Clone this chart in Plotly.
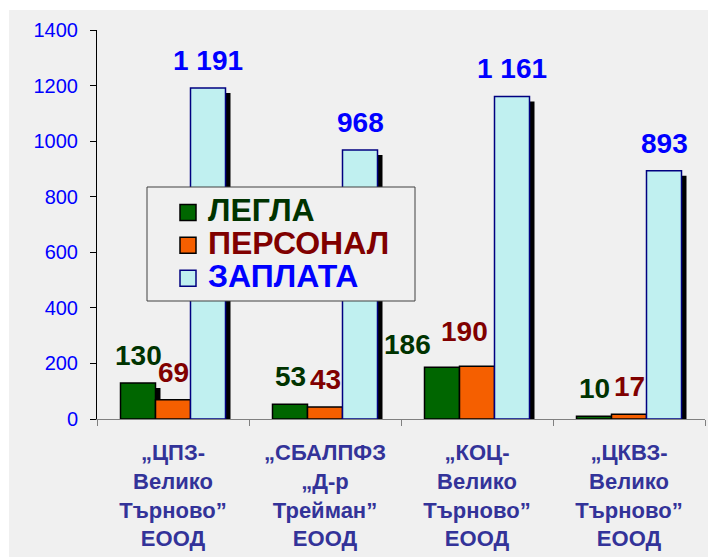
import plotly.graph_objects as go

# ---------------- data ----------------
categories = [
    "„ЦПЗ-<br>Велико<br>Търново”<br>ЕООД",
    "„СБАЛПФЗ<br>„Д-р<br>Трейман”<br>ЕООД",
    "„КОЦ-<br>Велико<br>Търново”<br>ЕООД",
    "„ЦКВЗ-<br>Велико<br>Търново”<br>ЕООД",
]
beds = [130, 53, 186, 10]          # ЛЕГЛА
staff = [69, 43, 190, 17]          # ПЕРСОНАЛ
salary = [1191, 968, 1161, 893]    # ЗАПЛАТА
series_names = ["ЛЕГЛА", "ПЕРСОНАЛ", "ЗАПЛАТА"]
y_ticks = [0, 200, 400, 600, 800, 1000, 1200, 1400]

# ---------------- styling ----------------
W, H = 716, 557
M = dict(l=89, r=19, t=22, b=146)
PW = W - M["l"] - M["r"]
PH = H - M["t"] - M["b"]
YMAX = 1400
px_x = PW / len(categories)   # pixels per category
px_y = PH / YMAX              # pixels per y unit


def fx(px):   # figure pixel -> paper x
    return (px - M["l"]) / PW


def fy(py):   # figure pixel (from top) -> paper y
    return (M["t"] + PH - py) / PH


FONT = "Arial, Liberation Sans, sans-serif"
fills = ["#006600", "#F55F00", "#C0F0F0"]
lines = ["#000000", "#000000", "#000080"]
label_colors = ["#003300", "#800000", "#0000FF"]
BG = "#F0F0F0"

bar_w = 35 / px_x
offsets = [(-1.5 + k) * bar_w for k in range(3)]
sh_dx = 5 / px_x
sh_dy = 5 / px_y

# manual label nudges (pixels) as in the original chart
label_nudge = {(0, 2): (-35, -5), (1, 2): (-13, 7)}

series = [beds, staff, salary]

fig = go.Figure()

# shadows
for k, vals in enumerate(series):
    fig.add_trace(go.Bar(
        x=categories, y=vals, base=-sh_dy, offset=offsets[k] + sh_dx, width=bar_w,
        marker=dict(color="#000000", line=dict(width=0)),
        showlegend=False, hoverinfo="skip",
    ))

# bars
for k, vals in enumerate(series):
    fig.add_trace(go.Bar(
        x=categories, y=vals, offset=offsets[k], width=bar_w, name=series_names[k],
        marker=dict(color=fills[k], line=dict(color=lines[k], width=1.5)),
        showlegend=False,
    ))

# legend entries
for k, nm in enumerate(series_names):
    fig.add_trace(go.Scatter(
        x=[None], y=[None], mode="markers",
        marker=dict(symbol="square", size=18, color=fills[k],
                    line=dict(color=lines[k], width=1.5)),
        name=f"<span style='font-size:32px;color:{label_colors[k]}'><b>{nm}</b></span>",
    ))


def fmt(v):
    return f"{v:,}".replace(",", " ")


annotations = []
for k, vals in enumerate(series):
    for i, v in enumerate(vals):
        dx, dy = label_nudge.get((k, i), (0, 0))
        annotations.append(dict(
            x=i + offsets[k] + bar_w / 2, y=v, xref="x", yref="y",
            text=fmt(v), showarrow=False, yanchor="bottom", xanchor="center",
            yshift=10 + dy, xshift=dx,
            font=dict(family=FONT, size=28, color=label_colors[k], weight="bold"),
        ))

shapes = [
    # grey chart-area background
    dict(type="rect", xref="paper", yref="paper",
         x0=fx(1), x1=fx(W + 5), y0=fy(H + 5), y1=fy(2),
         fillcolor=BG, line=dict(width=0), layer="below"),
    # legend box
    dict(type="rect", xref="paper", yref="paper",
         x0=fx(139), x1=fx(407), y0=fy(293), y1=fy(179),
         fillcolor=BG, line=dict(color="#404040", width=1), layer="above"),
]

fig.update_layout(
    width=W, height=H, margin=M,
    paper_bgcolor="#FFFFFF", plot_bgcolor="rgba(0,0,0,0)",
    barmode="overlay",
    font=dict(family=FONT),
    showlegend=True,
    legend=dict(
        x=fx(160), y=fy(183),
        xanchor="left", yanchor="top",
        bgcolor="rgba(0,0,0,0)", borderwidth=0,
        font=dict(family=FONT, size=23),
    ),
    xaxis=dict(
        type="category", categoryorder="array", categoryarray=categories,
        range=[-0.5, len(categories) - 0.5],
        showline=True, linecolor="#808080", linewidth=1,
        ticks="outside", tickson="boundaries", ticklen=6, tickcolor="#808080",
        showgrid=False, zeroline=False, ticklabelstandoff=14,
        tickfont=dict(family=FONT, size=22, color="#333399", weight="bold"),
    ),
    yaxis=dict(
        range=[0, YMAX], tickvals=y_ticks,
        showline=True, linecolor="#000000", linewidth=1,
        ticks="outside", ticklen=6, tickcolor="#000000",
        showgrid=False, zeroline=False, ticklabelstandoff=8,
        tickfont=dict(family=FONT, size=20, color="#0000FF"),
    ),
    annotations=annotations,
    shapes=shapes,
)

fig.write_html("out.html")
